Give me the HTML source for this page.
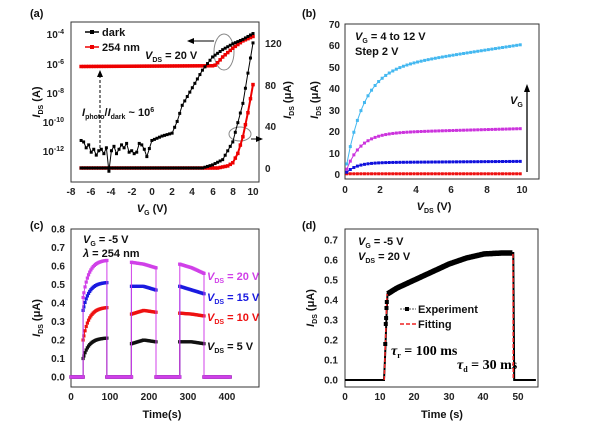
<!DOCTYPE html>
<html><head><meta charset="utf-8">
<style>
html,body{margin:0;padding:0;background:#fff;}
svg{display:block;font-family:"Liberation Sans",Arial,sans-serif;font-weight:bold;}
.t{font-size:10px;fill:#222;}
.l{font-size:11px;fill:#111;}
</style></head>
<body>
<svg id="s" width="600" height="427" viewBox="0 0 600 427" xmlns="http://www.w3.org/2000/svg">
<rect width="600" height="427" fill="#fff"/>
<!-- Panel a -->
<text x="30" y="17" class="l">(a)</text>
<rect x="71" y="22" width="188" height="160" fill="none" stroke="#333" stroke-width="1"/>
<g class="t" text-anchor="end">
<text x="64" y="38">10<tspan dy="-4" font-size="7">-4</tspan></text>
<text x="64" y="68">10<tspan dy="-4" font-size="7">-6</tspan></text>
<text x="64" y="97">10<tspan dy="-4" font-size="7">-8</tspan></text>
<text x="64" y="126">10<tspan dy="-4" font-size="7">-10</tspan></text>
<text x="64" y="155">10<tspan dy="-4" font-size="7">-12</tspan></text>
</g>
<g class="t" text-anchor="start">
<text x="265" y="47">120</text><text x="265" y="89">80</text><text x="265" y="130">40</text><text x="265" y="172">0</text>
</g>
<g class="t" text-anchor="middle">
<text x="71" y="195">-8</text><text x="91" y="195">-6</text><text x="111" y="195">-4</text><text x="132" y="195">-2</text><text x="152" y="195">0</text><text x="172" y="195">2</text><text x="192" y="195">4</text><text x="213" y="195">6</text><text x="233" y="195">8</text><text x="253" y="195">10</text>
</g>
<text x="152" y="212" class="l" text-anchor="middle"><tspan font-style="italic">V</tspan><tspan font-size="7" dy="3">G</tspan><tspan dy="-3"> (V)</tspan></text>
<text transform="translate(40,102) rotate(-90)" class="l" text-anchor="middle"><tspan font-style="italic">I</tspan><tspan font-size="7" dy="3">DS</tspan><tspan dy="-3"> (A)</tspan></text>
<text transform="translate(291,100) rotate(-90)" class="l" text-anchor="middle"><tspan font-style="italic">I</tspan><tspan font-size="7" dy="3">DS</tspan><tspan dy="-3"> (μA)</tspan></text>
<line x1="85" y1="32" x2="99" y2="32" stroke="#000" stroke-width="1.5"/><rect x="90" y="30" width="4" height="4" fill="#000"/>
<text x="102" y="36" class="l">dark</text>
<line x1="85" y1="47" x2="99" y2="47" stroke="#e00" stroke-width="1.5"/><rect x="90" y="45" width="4" height="4" fill="#e00"/>
<text x="102" y="51" class="l">254 nm</text>
<text x="145" y="59" class="l"><tspan font-style="italic">V</tspan><tspan font-size="7" dy="3">DS</tspan><tspan dy="-3"> = 20 V</tspan></text>
<text x="82" y="116" class="l"><tspan font-style="italic">I</tspan><tspan font-size="7" dy="3">photo</tspan><tspan dy="-3">/</tspan><tspan font-style="italic">I</tspan><tspan font-size="7" dy="3">dark</tspan><tspan dy="-3"> ~ 10</tspan><tspan font-size="7" dy="-4">6</tspan></text>
<line x1="100" y1="75" x2="100" y2="150" stroke="#000" stroke-dasharray="3,2"/>
<polygon points="100,70 97,77 103,77" fill="#000"/>
<ellipse cx="224" cy="52" rx="10" ry="18" fill="none" stroke="#888"/>
<line x1="214" y1="41" x2="193" y2="41" stroke="#000"/><polygon points="187,41 194,38 194,44" fill="#000"/>
<ellipse cx="240" cy="134" rx="11" ry="7" fill="none" stroke="#888"/>
<line x1="251" y1="139" x2="258" y2="139" stroke="#000"/><polygon points="263,139 256,136 256,142" fill="#000"/>
<g id="ga"></g>
<!-- Panel b -->
<text x="302" y="17" class="l">(b)</text>
<rect x="345" y="24" width="194" height="155" fill="none" stroke="#333"/>
<g class="t" text-anchor="end">
<text x="340" y="28">70</text><text x="340" y="49">60</text><text x="340" y="71">50</text><text x="340" y="92">40</text><text x="340" y="114">30</text><text x="340" y="135">20</text><text x="340" y="157">10</text><text x="340" y="178">0</text>
</g>
<g class="t" text-anchor="middle">
<text x="345" y="193">0</text><text x="380" y="193">2</text><text x="416" y="193">4</text><text x="451" y="193">6</text><text x="487" y="193">8</text><text x="522" y="193">10</text>
</g>
<text x="434" y="210" class="l" text-anchor="middle"><tspan font-style="italic">V</tspan><tspan font-size="7" dy="3">DS</tspan><tspan dy="-3"> (V)</tspan></text>
<text transform="translate(318,100) rotate(-90)" class="l" text-anchor="middle"><tspan font-style="italic">I</tspan><tspan font-size="7" dy="3">DS</tspan><tspan dy="-3"> (μA)</tspan></text>
<text x="355" y="40" class="l"><tspan font-style="italic">V</tspan><tspan font-size="7" dy="3">G</tspan><tspan dy="-3"> = 4 to 12 V</tspan></text>
<text x="355" y="55" class="l">Step 2 V</text>
<text x="510" y="104" class="l"><tspan font-style="italic">V</tspan><tspan font-size="7" dy="3">G</tspan></text>
<line x1="527" y1="172" x2="527" y2="90" stroke="#000" stroke-width="1.3"/><polygon points="527,84 524,92 530,92" fill="#000"/>
<g id="gb"></g>
<!-- Panel c -->
<text x="30" y="229" class="l">(c)</text>
<rect x="71" y="229" width="188" height="158" fill="none" stroke="#333"/>
<g class="t" text-anchor="end" id="cy"></g>
<g class="t" text-anchor="middle">
<text x="71" y="400">0</text><text x="110" y="400">100</text><text x="149" y="400">200</text><text x="188" y="400">300</text><text x="227" y="400">400</text>
</g>
<text x="162" y="418" class="l" text-anchor="middle">Time(s)</text>
<text transform="translate(40,318) rotate(-90)" class="l" text-anchor="middle"><tspan font-style="italic">I</tspan><tspan font-size="7" dy="3">DS</tspan><tspan dy="-3"> (μA)</tspan></text>
<text x="83" y="243" class="l"><tspan font-style="italic">V</tspan><tspan font-size="7" dy="3">G</tspan><tspan dy="-3"> = -5 V</tspan></text>
<text x="83" y="257" class="l"><tspan font-style="italic">λ</tspan> = 254 nm</text>
<text x="207" y="280" class="l" style="fill:#d040e8"><tspan font-style="italic">V</tspan><tspan font-size="7" dy="3">DS</tspan><tspan dy="-3"> = 20 V</tspan></text>
<text x="207" y="301" class="l" style="fill:#1a1ae0"><tspan font-style="italic">V</tspan><tspan font-size="7" dy="3">DS</tspan><tspan dy="-3"> = 15 V</tspan></text>
<text x="207" y="321" class="l" style="fill:#ee1111"><tspan font-style="italic">V</tspan><tspan font-size="7" dy="3">DS</tspan><tspan dy="-3"> = 10 V</tspan></text>
<text x="207" y="350" class="l" style="fill:#111"><tspan font-style="italic">V</tspan><tspan font-size="7" dy="3">DS</tspan><tspan dy="-3"> = 5 V</tspan></text>
<g id="gc"></g>
<!-- Panel d -->
<text x="302" y="229" class="l">(d)</text>
<rect x="345" y="229" width="193" height="158" fill="none" stroke="#333"/>
<g class="t" text-anchor="end" id="dy"></g>
<g class="t" text-anchor="middle">
<text x="345" y="400">0</text><text x="380" y="400">10</text><text x="414" y="400">20</text><text x="449" y="400">30</text><text x="483" y="400">40</text><text x="518" y="400">50</text>
</g>
<text x="442" y="418" class="l" text-anchor="middle">Time (s)</text>
<text transform="translate(314,308) rotate(-90)" class="l" text-anchor="middle"><tspan font-style="italic">I</tspan><tspan font-size="7" dy="3">DS</tspan><tspan dy="-3"> (μA)</tspan></text>
<text x="358" y="245" class="l"><tspan font-style="italic">V</tspan><tspan font-size="7" dy="3">G</tspan><tspan dy="-3"> = -5 V</tspan></text>
<text x="358" y="260" class="l"><tspan font-style="italic">V</tspan><tspan font-size="7" dy="3">DS</tspan><tspan dy="-3"> = 20 V</tspan></text>
<line x1="400" y1="309" x2="416" y2="309" stroke="#555" stroke-dasharray="2,1"/><rect x="405" y="307" width="4" height="4" fill="#000"/>
<text x="418" y="313" class="l">Experiment</text>
<line x1="400" y1="324" x2="416" y2="324" stroke="#e22" stroke-width="1.5" stroke-dasharray="4,2"/>
<text x="418" y="328" class="l">Fitting</text>
<text x="391" y="355" font-family="Liberation Serif,serif" font-size="14" font-weight="bold"><tspan font-style="italic">τ</tspan><tspan font-size="8" dy="3">r</tspan><tspan dy="-3"> = 100 ms</tspan></text>
<text x="457" y="369" font-family="Liberation Serif,serif" font-size="14" font-weight="bold"><tspan font-style="italic">τ</tspan><tspan font-size="8" dy="3">d</tspan><tspan dy="-3"> = 30 ms</tspan></text>
<g id="gd"></g>
</svg>
<script>
var NS="http://www.w3.org/2000/svg";
function el(g,tag,a){var e=document.createElementNS(NS,tag);for(var k in a)e.setAttribute(k,a[k]);g.appendChild(e);return e;}
function series(g,pts,col,ms,lw){el(g,"polyline",{points:pts.map(p=>p[0].toFixed(1)+","+p[1].toFixed(1)).join(" "),fill:"none",stroke:col,"stroke-width":lw||1});
 if(ms)pts.forEach(p=>el(g,"rect",{x:p[0]-ms/2,y:p[1]-ms/2,width:ms,height:ms,fill:col}));}
function interp(t,xs,ys){for(var i=0;i<xs.length-1;i++)if(t<=xs[i+1]){var f=(t-xs[i])/(xs[i+1]-xs[i]);return ys[i]+f*(ys[i+1]-ys[i]);}return ys[ys.length-1];}
// panel a
var ga=document.getElementById("ga");
var ax=v=>71+(v+8)*182/18, ayl=l=>35+(-4-l)*14.65, ayr=u=>168-u*41.7/40;
var noise=[-11.2,-11.3,-11.7,-11.5,-12.0,-11.8,-12.2,-11.9,-11.8,-12.1,-11.7,-13.3,-11.9,-11.6,-12.1,-11.8,-11.5,-11.7,-11.4,-12.0,-11.9,-12.1,-12.0,-11.4,-11.5,-11.8,-12.6,-12.4,-12.8,-11.9,-13.2,-12.0,-14.2,-11.8];
var dk=[],rd=[],dl=[],rl=[];
var i=0;
for(var v=-7;v<=10.001;v+=0.25){var l;
 if(v<-0.5){l=noise[i%noise.length];i++;}
 else l=interp(v,[-0.5,0,1,2,2.5,3,4,5,6,7,8,9,10],[-12.3,-11.2,-10.9,-10.7,-9.9,-8.8,-7.6,-6.4,-5.5,-5.0,-4.6,-4.3,-3.9]);
 dk.push([ax(v),ayl(l)]);
 rl.push([ax(v),ayl(interp(v,[-7,6,6.3,7,8,9,10],[-6.15,-6.1,-6.05,-5.5,-4.9,-4.4,-4.1]))]);
 dl.push([ax(v),ayr(interp(v,[-7,5,6,7,8,9,10],[0,0,3,8,25,62,120]))]);
 rd.push([ax(v),ayr(interp(v,[-7,6.5,7.5,8,8.5,9,9.5,10],[0,0,2,5,14,30,53,80]))]);
}
series(ga,rl,"#e00",3.5,2);series(ga,rd,"#e00",3.5,2);series(ga,dk,"#000",3);series(ga,dl,"#000",3);
// panel b
var gb=document.getElementById("gb");
var bx=v=>345+v*17.7, by=u=>174-u*2.14;
var B=[[v=>0.1,"#ee1111"],[v=>5.3*(1-Math.exp(-v/0.6))+0.06*v,"#1010dd"],[v=>19*(1-Math.exp(-v/0.8))+0.22*v,"#cc33dd"],[v=>48*(1-Math.exp(-v/1.0))+1.25*v,"#44b8f0"]];
B.forEach(function(b){var p=[];for(var v=0.1;v<=10.01;v+=0.2)p.push([bx(v),by(b[0](v))]);series(gb,p,b[1],3,1);});
// panel c
var gc=document.getElementById("gc"),cy=document.getElementById("cy");
var cx=t=>71+t*0.39, cyy=u=>377-u*185;
for(var k=0;k<=8;k++)el(cy,"text",{x:65,y:cyy(k/10)+3.5}).textContent=(k/10).toFixed(1);
var on=[[31,92],[155,218],[279,341]];
var lev={20:[[0.43,0.63,0.63],[0.62,0.61,0.59],[0.61,0.59,0.56]],15:[[0.36,0.51,0.51],[0.49,0.49,0.47],[0.49,0.47,0.45]],10:[[0.2,0.37,0.375],[0.34,0.36,0.35],[0.345,0.34,0.33]],5:[[0.1,0.2,0.21],[0.18,0.2,0.19],[0.19,0.19,0.18]]};
var cc={20:"#d040e8",15:"#1a1ae0",10:"#ee1111",5:"#111"};
[5,10,15,20].forEach(function(V){var p=[];
 for(var t=0;t<=408;t+=3){var u=0;
  for(var j=0;j<3;j++){var a=on[j][0],b=on[j][1];if(t>=a&&t<=b){var L=lev[V][j],f=(t-a)/(b-a);
   u=j==0?L[0]+(L[2]-L[0])*(1-Math.exp(-f*4))/(1-Math.exp(-4)):(f<0.5?L[0]+(L[1]-L[0])*f*2:L[1]+(L[2]-L[1])*(f-0.5)*2);}}
  p.push([cx(t),cyy(u)]);
  for(var j=0;j<3;j++){if(t<on[j][0]&&t+3>=on[j][0]){p.push([cx(on[j][0]),cyy(0)]);p.push([cx(on[j][0]),cyy(lev[V][j][0])]);}
   if(t<=on[j][1]&&t+3>on[j][1]){p.push([cx(on[j][1]),cyy(lev[V][j][2])]);p.push([cx(on[j][1]),cyy(0)]);}}
 }
 series(gc,p,cc[V],3.2,1);});
// panel d
var gd=document.getElementById("gd"),dyy=document.getElementById("dy");
var dx=t=>345+t*3.47, dy=u=>380-u*200;
for(var k=0;k<=7;k++)el(dyy,"text",{x:338,y:dy(k/10)+3.5}).textContent=(k/10).toFixed(1);
var p=[];
for(var t=0;t<=55;t+=0.25){var u;
 if(t<11.3||t>48.5)u=0;else if(t<12.2)u=0.43*(t-11.3)/0.9;else u=interp(t,[12.2,15,20,25,30,35,40,45,48.4],[0.43,0.46,0.5,0.54,0.58,0.61,0.63,0.635,0.635]);
 p.push([dx(t),dy(u)]);}
el(gd,"polyline",{points:p.map(q=>q[0].toFixed(1)+","+q[1].toFixed(1)).join(" "),fill:"none",stroke:"#000","stroke-width":2});
var band=p.filter(q=>q[0]>dx(12.2)&&q[0]<dx(48.4));
el(gd,"polyline",{points:band.map(q=>q[0].toFixed(1)+","+q[1].toFixed(1)).join(" "),fill:"none",stroke:"#000","stroke-width":5.5});
el(gd,"line",{x1:dx(11.3),y1:dy(0),x2:dx(12.1),y2:dy(0.43),stroke:"#e22","stroke-width":1.5,"stroke-dasharray":"4,2"});
el(gd,"line",{x1:dx(48.4),y1:dy(0.63),x2:dx(48.5),y2:dy(0),stroke:"#e22","stroke-width":1.5,"stroke-dasharray":"4,2"});
[[11.6,0.18],[11.75,0.28],[11.85,0.31],[11.95,0.36],[12.05,0.39]].forEach(q=>el(gd,"rect",{x:dx(q[0])-2,y:dy(q[1])-2,width:4,height:4,fill:"#000"}));
</script>
</body></html>
